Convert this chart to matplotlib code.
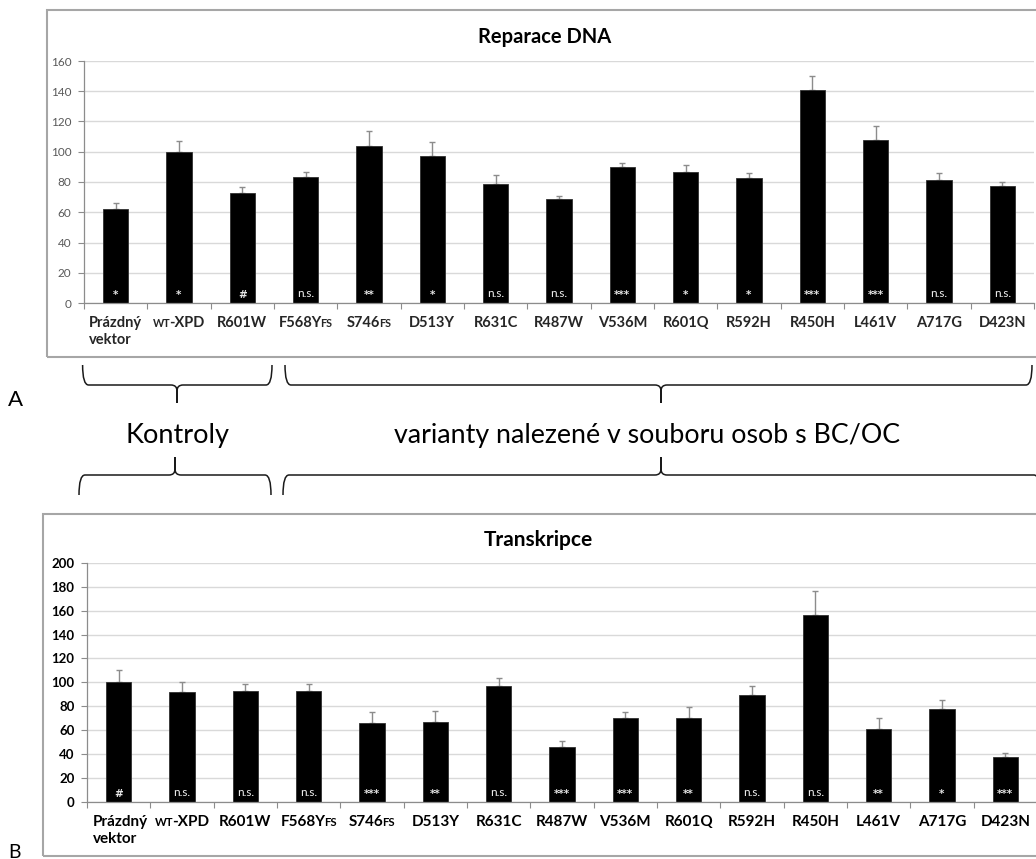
import numpy as np
import matplotlib
matplotlib.use("Agg")
import matplotlib.pyplot as plt
from matplotlib.patches import Rectangle, PathPatch
from matplotlib.path import Path
from matplotlib.transforms import offset_copy

plt.rcParams['font.family'] = ['Lato', 'DejaVu Sans']

# ---- data -------------------------------------------------------------
categories = ["Prázdný\nvektor", "wt-XPD", "R601W", "F568Yfs", "S746fs", "D513Y",
              "R631C", "R487W", "V536M", "R601Q", "R592H", "R450H", "L461V",
              "A717G", "D423N"]

repair_values = [62, 100, 73, 83, 104, 97, 79, 69, 90, 86.5, 82.5, 140.5, 108, 81.5, 77.5]
repair_errors = [4, 7, 3.5, 3.4, 10, 9.4, 5.6, 2, 2.5, 5, 3.3, 9.5, 9, 4.2, 2.4]
repair_signif = ["*", "*", "#", "n.s.", "**", "*", "n.s.", "n.s.", "***", "*", "*",
                 "***", "***", "n.s.", "n.s."]

transcr_values = [100, 92, 93, 93, 66, 67, 97, 46, 70, 70.5, 89.5, 156, 61, 78, 37.5]
transcr_errors = [10, 8, 5.7, 5.8, 9, 9.4, 6.4, 5, 5, 8.6, 7.8, 20.4, 9.7, 7, 3.9]
transcr_signif = ["#", "n.s.", "n.s.", "n.s.", "***", "**", "n.s.", "***", "***", "**",
                  "n.s.", "n.s.", "**", "*", "***"]

repair_yticks = [0, 20, 40, 60, 80, 100, 120, 140, 160]
transcr_yticks = [0, 20, 40, 60, 80, 100, 120, 140, 160, 180, 200]

W, H = 1036, 859
fig = plt.figure(figsize=(W / 100, H / 100), dpi=100)
fig.patch.set_facecolor("white")


def fx(x):
    return x / W


def fy(y):
    return 1 - y / H


def split_runs(label):
    """Split a label into (text, is_small_caps) runs; lowercase runs are small caps."""
    runs = []
    for ch in label:
        small = ch.islower()
        if runs and runs[-1][1] == small:
            runs[-1][0] += ch
        else:
            runs.append([ch, small])
    return [(t.upper() if s else t, s) for t, s in runs]


def draw_category_labels(ax, labels, size, color, first_dx):
    renderer = fig.canvas.get_renderer()
    base = ax.get_xaxis_transform()
    for i, lab in enumerate(labels):
        if "\n" in lab:
            for k, line in enumerate(lab.split("\n")):
                tr = offset_copy(base, fig=fig, x=first_dx, y=-24 - 17 * k, units="dots")
                ax.text(-0.5, 0, line, transform=tr, ha="left", va="baseline",
                        fontsize=size, fontweight="bold", color=color, clip_on=False)
            continue
        pieces = []
        for txt, small in split_runs(lab):
            t = ax.text(i, 0, txt, transform=base, ha="left", va="baseline",
                        fontsize=size * 0.74 if small else size,
                        fontweight="bold", color=color, clip_on=False)
            pieces.append(t)
        widths = [p.get_window_extent(renderer).width for p in pieces]
        gap = 1.5
        total = sum(widths) - gap * (len(pieces) - 1)
        cx = -total / 2
        for p, w in zip(pieces, widths):
            p.set_transform(offset_copy(base, fig=fig, x=cx, y=-24, units="dots"))
            cx += w - gap


def make_panel(rect, values, errors, signif, yticks, title, title_xy, title_size,
               tick_size, tick_weight, tick_color, cat_size, cat_color, first_dx):
    ax = fig.add_axes(rect)
    x = np.arange(len(values))
    ax.bar(x, values, width=0.4, color="black", edgecolor="#303030",
           linewidth=0.6, zorder=3)
    ax.errorbar(x, values, yerr=[np.zeros(len(values)), errors], fmt="none",
                ecolor="#8c8c8c", elinewidth=1.0, capsize=2.4, capthick=1.0,
                zorder=2)
    ax.set_xlim(-0.5, len(values) - 0.5)
    ax.set_ylim(0, yticks[-1])
    ax.set_yticks(yticks)
    ax.set_yticklabels([str(v) for v in yticks], fontsize=tick_size,
                       fontweight=tick_weight, color=tick_color)
    ax.set_xticks(np.arange(-0.5, len(values), 1.0))
    ax.set_xticklabels([])
    ax.tick_params(axis="x", direction="out", length=4, width=0.8, color="#8c8c8c")
    ax.tick_params(axis="y", direction="out", length=4, width=0.8, color="#8c8c8c",
                   pad=5)
    ax.yaxis.grid(True, color="#d9d9d9", linewidth=1.0, zorder=0)
    ax.set_axisbelow(True)
    for side in ("top", "right"):
        ax.spines[side].set_visible(False)
    for side in ("left", "bottom"):
        ax.spines[side].set_color("#8c8c8c")
        ax.spines[side].set_linewidth(0.9)
    ax.spines["bottom"].set_zorder(4)
    base = ax.get_xaxis_transform()
    for i, s in enumerate(signif):
        if s == "n.s.":
            tr = offset_copy(base, fig=fig, x=0, y=6, units="dots")
            ax.text(i, 0, s, transform=tr, ha="center", va="baseline",
                    fontsize=8.5, color="#f2f2f2", zorder=5)
        else:
            tr = offset_copy(base, fig=fig, x=0, y=5, units="dots")
            ax.text(i, 0, s, transform=tr, ha="center", va="baseline",
                    fontsize=7.5, fontweight="bold", color="#e6e6e6",
                    family=["DejaVu Sans"], zorder=5)
    draw_category_labels(ax, categories, cat_size, cat_color, first_dx)
    fig.text(fx(title_xy[0]), fy(title_xy[1]), title,
             ha="center", va="center", fontsize=title_size, fontweight="bold",
             color="black")
    return ax


# chart frames
fig.add_artist(Rectangle((fx(47), fy(357)), 1.0, fy(10) - fy(357), fill=False,
                         edgecolor="#a6a6a6", linewidth=1.5, transform=fig.transFigure))
fig.add_artist(Rectangle((fx(43), fy(856)), 1.0, fy(514) - fy(856), fill=False,
                         edgecolor="#a6a6a6", linewidth=1.5, transform=fig.transFigure))

# upper panel: DNA repair
make_panel([fx(84), fy(303), (1034 - 84) / W, 242 / H],
           repair_values, repair_errors, repair_signif, repair_yticks,
           "Reparace DNA", (545, 37), 14.5, 8.5, "normal", "#595959", 10.5, "#262626", 5)

# lower panel: transcription
make_panel([fx(87), fy(802.3), (1037 - 87) / W, 239.7 / H],
           transcr_values, transcr_errors, transcr_signif, transcr_yticks,
           "Transkripce", (538, 540), 15, 9.5, "bold", "black", 11, "black", 6)


# ---- group braces -----------------------------------------------------
def brace(x0, x1, xm, y_end, y_mid, y_tip, r=6):
    sgn = 1 if y_tip > y_mid else -1
    verts, codes = [], []
    for a, b in ((x0, xm), (x1, xm)):
        d = 1 if b > a else -1
        pts = [(a, y_end), (a, y_mid), (a + d * r, y_mid),
               (b - d * r, y_mid), (b, y_mid), (b, y_mid + sgn * r), (b, y_tip)]
        c = [Path.MOVETO, Path.CURVE3, Path.CURVE3, Path.LINETO,
             Path.CURVE3, Path.CURVE3, Path.LINETO]
        verts += [(fx(px), fy(py)) for px, py in pts]
        codes += c
    fig.add_artist(PathPatch(Path(verts, codes), fill=False, edgecolor="#1a1a1a",
                             linewidth=1.1, transform=fig.transFigure))


brace(82.6, 272, 177, 365, 385, 403)
brace(285, 1032, 661, 365, 385, 403)
brace(79, 271, 175, 495, 475, 457)
brace(283, 1040, 661, 495, 475, 457)

fig.text(fx(178), fy(436), "Kontroly", ha="center", va="center", fontsize=19.5,
         color="black")
fig.text(fx(647), fy(436), "varianty nalezené v souboru osob s BC/OC", ha="center",
         va="center", fontsize=19.3, color="black")
fig.text(fx(16), fy(400), "A", ha="center", va="center", fontsize=16, color="black")
fig.text(fx(15), fy(858), "B", ha="center", va="baseline", fontsize=14, color="black")

fig.savefig("out.png", dpi=100, facecolor="white")
